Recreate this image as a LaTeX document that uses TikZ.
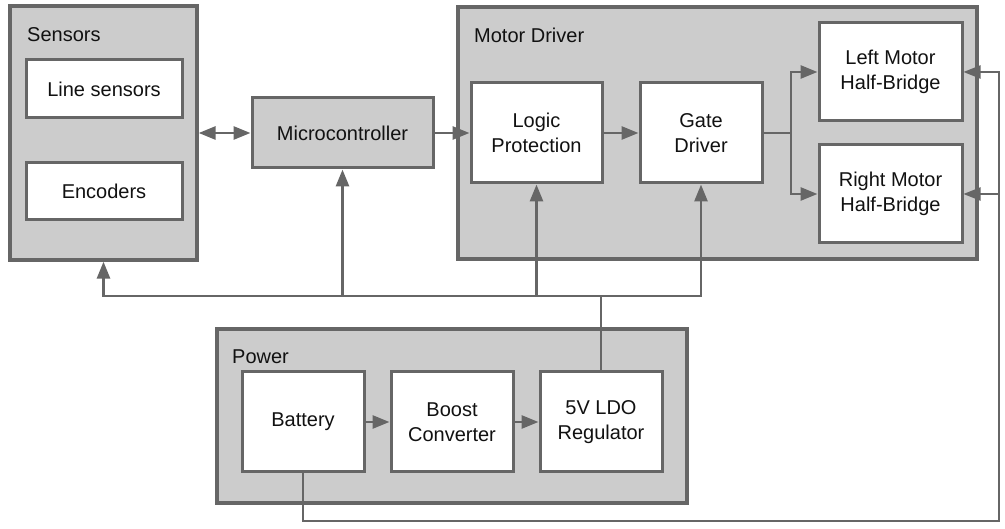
\documentclass[tikz,border=0pt]{standalone}
\usepackage{fontspec}
\setmainfont{Liberation Sans}
\usepackage{tikz}
\usetikzlibrary{arrows.meta,positioning}
\usepackage{xcolor}
\definecolor{BlockLine}{HTML}{666666}
\definecolor{BlockFill}{HTML}{CCCCCC}
\definecolor{BlockText}{HTML}{111111}
\tikzset{
  flowarrow/.style={-{Triangle[length=17pt,width=13pt]},line width=2.8pt,draw=BlockLine},
  bothways/.style={flowarrow,{Triangle[length=17pt,width=13pt]}-{Triangle[length=17pt,width=13pt]}},
  railarrow/.style={flowarrow,line width=2pt},
  busline/.style={line width=2.8pt,draw=BlockLine},
  group/.style={draw=BlockLine,line width=3.3pt,fill=BlockFill,inner sep=0pt},
  grouptitle/.style={anchor=west,inner sep=0pt,text=BlockText},
  unit/.style={draw=BlockLine,line width=3pt,fill=white,align=center,inner sep=0pt,text=BlockText},
  graybox/.style={unit,fill=BlockFill}
}
\begin{document}
\begin{tikzpicture}[x=1pt,y=-1pt,font=\fontsize{20}{25}\selectfont]
  \useasboundingbox (0,0) rectangle (1005,529);

  % Group frames.
  \node[group,minimum width=187pt,minimum height=254pt] (sensors) at (103.5,133) {};
  \node[group,minimum width=519pt,minimum height=252pt] (motor) at (717.5,133) {};
  \node[group,minimum width=470pt,minimum height=174pt] (power) at (452,416) {};
  \node[grouptitle] (sensorstitle) at (27,35) {Sensors};
  \node[grouptitle] (motortitle) at (474,35) {Motor Driver};
  \node[grouptitle] (powertitle) at (232,357) {Power};

  % Sensing and control.
  \node[unit,minimum width=156pt,minimum height=58pt] (linesens) at (104,89) {Line sensors};
  \node[unit,minimum width=156pt,minimum height=57pt] (encoders) at (104,191.5) {Encoders};
  \node[graybox,minimum width=181pt,minimum height=70pt] (micro) at (342.5,133) {Microcontroller};

  % Motor driver stages.
  \node[unit,minimum width=131pt,minimum height=100pt] (logic) at (536.5,133) {Logic\\Protection};
  \node[unit,minimum width=122pt,minimum height=100pt] (gate) at (701,133) {Gate\\Driver};
  \node[unit,minimum width=143pt,minimum height=98pt] (leftbridge) at (890.5,72) {Left Motor\\Half-Bridge};
  \node[unit,minimum width=143pt,minimum height=98pt] (rightbridge) at (890.5,194) {Right Motor\\Half-Bridge};

  % Power chain.
  \node[unit,minimum width=122pt,minimum height=100pt] (battery) at (303,422) {Battery};
  \node[unit,minimum width=122pt,minimum height=100pt] (boost) at (452,422) {Boost\\Converter};
  \node[unit,minimum width=122pt,minimum height=100pt] (ldo) at (601,422) {5V LDO\\Regulator};

  \coordinate (split) at (791,133);
  \coordinate (bus) at (601,296);
  \coordinate (ret) at (999,521);

  \draw[bothways] (sensors.east) -- (micro.west);
  \draw[flowarrow] (micro.east) -- (logic.west);
  \draw[flowarrow] (logic.east) -- (gate.west);
  \draw[busline] (gate.east) -- (split);
  \draw[flowarrow] (split) |- (leftbridge.west);
  \draw[flowarrow] (split) |- (rightbridge.west);

  \draw[flowarrow] (battery.east) -- (boost.west);
  \draw[flowarrow] (boost.east) -- (ldo.west);

  % 5V rail.
  \draw[flowarrow] (ldo.north) -- (bus) -| (sensors.south);
  \draw[flowarrow] (bus) -| (gate.south);
  \draw[flowarrow] (micro.south |- bus) -- (micro.south);
  \draw[flowarrow] (logic.south |- bus) -- (logic.south);

  % Battery rail to the bridges.
  \draw[railarrow] (battery.south) |- (ret) |- (leftbridge.east);
  \draw[railarrow] (ret |- rightbridge.east) -- (rightbridge.east);
\end{tikzpicture}
\end{document}
